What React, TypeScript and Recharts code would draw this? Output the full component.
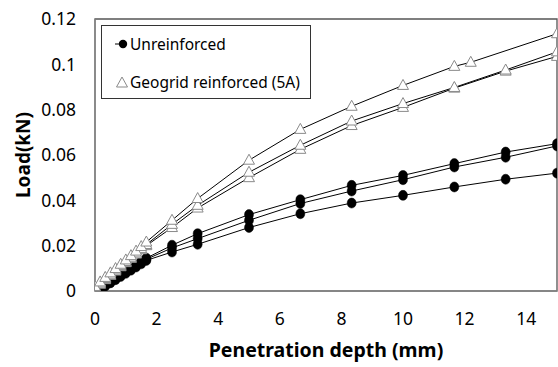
import React from 'react';
import { LineChart, Line, XAxis, YAxis, ReferenceArea, Legend } from 'recharts';

const X_UNREINF = [0.167, 0.333, 0.5, 0.667, 0.833, 1, 1.167, 1.333, 1.5, 1.667, 2.5, 3.333, 5, 6.667, 8.333, 10, 11.667, 13.333, 15];
const U1 = [0.001, 0.0025, 0.004, 0.0055, 0.007, 0.0085, 0.01, 0.0115, 0.013, 0.0145, 0.0202, 0.0253, 0.0337, 0.0403, 0.0466, 0.051, 0.0562, 0.0613, 0.065];
const U2 = [0.001, 0.0024, 0.0038, 0.0053, 0.0068, 0.0082, 0.0096, 0.011, 0.0125, 0.014, 0.019, 0.0231, 0.0312, 0.0386, 0.0441, 0.0491, 0.0547, 0.059, 0.064];
const U3 = [0.0008, 0.0022, 0.0036, 0.005, 0.0064, 0.0078, 0.0092, 0.0106, 0.012, 0.0135, 0.0172, 0.0206, 0.028, 0.0341, 0.0388, 0.0422, 0.0459, 0.0493, 0.052];

const X_GEO1 = [0, 0.167, 0.333, 0.5, 0.667, 0.833, 1, 1.167, 1.333, 1.5, 1.667, 2.5, 3.333, 5, 6.667, 8.333, 10, 11.667, 12.2, 15];
const G1 = [0.002, 0.004, 0.006, 0.008, 0.0099, 0.0118, 0.0137, 0.0156, 0.0176, 0.0196, 0.0216, 0.0312, 0.0408, 0.0577, 0.0713, 0.0815, 0.0907, 0.0991, 0.1009, 0.1135];
const X_GEO = [0, 0.167, 0.333, 0.5, 0.667, 0.833, 1, 1.167, 1.333, 1.5, 1.667, 2.5, 3.333, 5, 6.667, 8.333, 10, 11.667, 13.333, 15];
const G2 = [0.0015, 0.0035, 0.0055, 0.0074, 0.0093, 0.0112, 0.013, 0.0149, 0.0168, 0.0187, 0.0205, 0.0294, 0.0378, 0.0524, 0.0643, 0.075, 0.0827, 0.0898, 0.0975, 0.1055];
const G3 = [0.001, 0.003, 0.005, 0.0069, 0.0088, 0.0107, 0.0125, 0.0144, 0.0163, 0.0182, 0.02, 0.028, 0.0366, 0.05, 0.0625, 0.073, 0.081, 0.0895, 0.097, 0.1035];

const X_TICKS = [0, 2, 4, 6, 8, 10, 12, 14];
const Y_TICKS = [0, 0.02, 0.04, 0.06, 0.08, 0.1, 0.12];
const LEGEND_ITEMS = ['Unreinforced', 'Geogrid reinforced (5A)'];

const toData = (xs: number[], ys: number[]) => xs.map((x, i) => ({ x, y: ys[i] }));

const FONT = '"Noto Sans", sans-serif';

const Circle = (props: any) => {
  const { cx, cy, index } = props;
  if (cx == null || cy == null) return <g key={index} />;
  return <ellipse key={index} cx={cx} cy={cy} rx={4.5} ry={5} fill="#000" stroke="#000" strokeWidth={0.5} />;
};

const Tri = (props: any) => {
  const { cx, cy, index } = props;
  if (cx == null || cy == null) return <g key={index} />;
  const pts = `${cx},${cy - 6} ${cx - 5.5},${cy + 4} ${cx + 5.5},${cy + 4}`;
  return <polygon key={index} points={pts} fill="#fff" stroke="#8a8a8a" strokeWidth={1} />;
};

const LegendBox = () => (
  <div style={{ width: 208, height: 72, border: '1.3px solid #333', background: '#fff', fontFamily: FONT, fontSize: 15.5, color: '#000', position: 'relative', boxSizing: 'content-box' }}>
    <div style={{ position: 'absolute', left: 13, top: 8, display: 'flex', alignItems: 'center', height: 20 }}>
      <svg width={14} height={12}><line x1={0} y1={6} x2={10} y2={6} stroke="#000" /><circle cx={8} cy={6} r={4.2} fill="#000" /></svg>
      <span style={{ marginLeft: 1 }}>{LEGEND_ITEMS[0]}</span>
    </div>
    <div style={{ position: 'absolute', left: 13, top: 46, display: 'flex', alignItems: 'center', height: 20 }}>
      <svg width={14} height={12}><polygon points="7,1 1.5,11 12.5,11" fill="#fff" stroke="#8a8a8a" /></svg>
      <span style={{ marginLeft: 1 }}>{LEGEND_ITEMS[1]}</span>
    </div>
  </div>
);

export default function App() {
  const tickStyle = { fontFamily: FONT, fontSize: 17.5, fill: '#000' };
  return (
    <div style={{ position: 'absolute', left: 0, top: 0 }}>
      <LineChart width={558} height={367} margin={{ top: 19, right: 1, bottom: 31, left: 0 }}>
        <ReferenceArea x1={0} x2={15} y1={0} y2={0.12} fill="none" stroke="#555" strokeWidth={1.3} ifOverflow="visible" />
        <XAxis
          type="number"
          dataKey="x"
          domain={[0, 15]}
          ticks={X_TICKS}
          allowDataOverflow
          tickLine={false}
          tickSize={6}
          tickMargin={16}
          stroke="#888"
          strokeWidth={1.3}
          tick={tickStyle}
          height={45}
          label={{ value: 'Penetration depth (mm)', position: 'insideBottom', offset: -21, style: { fontFamily: FONT, fontSize: 19.5, fontWeight: 'bold', fill: '#000' } }}
        />
        <YAxis
          type="number"
          dataKey="y"
          domain={[0, 0.12]}
          ticks={Y_TICKS}
          allowDataOverflow
          tickLine={false}
          tickSize={6}
          tickMargin={13}
          stroke="#888"
          strokeWidth={1.3}
          tick={tickStyle}
          width={95}
          label={{ value: 'Load(kN)', angle: -90, position: 'insideLeft', offset: 23, style: { fontFamily: FONT, fontSize: 19, fontWeight: 'bold', fill: '#000', textAnchor: 'middle' } }}
        />
        <Legend
          layout="vertical"
          align="center"
          verticalAlign="middle"
          content={<LegendBox />}
          wrapperStyle={{ position: 'absolute', left: 101, top: 25, width: 210, height: 74 }}
        />
        <Line data={toData(X_UNREINF, U3)} dataKey="y" stroke="#000" strokeWidth={1} dot={Circle} isAnimationActive={false} />
        <Line data={toData(X_UNREINF, U2)} dataKey="y" stroke="#000" strokeWidth={1} dot={Circle} isAnimationActive={false} />
        <Line data={toData(X_UNREINF, U1)} dataKey="y" stroke="#000" strokeWidth={1} dot={Circle} isAnimationActive={false} />
        <Line data={toData(X_GEO, G3)} dataKey="y" stroke="#000" strokeWidth={1} dot={Tri} isAnimationActive={false} />
        <Line data={toData(X_GEO, G2)} dataKey="y" stroke="#000" strokeWidth={1} dot={Tri} isAnimationActive={false} />
        <Line data={toData(X_GEO1, G1)} dataKey="y" stroke="#000" strokeWidth={1} dot={Tri} isAnimationActive={false} />
      </LineChart>
    </div>
  );
}
